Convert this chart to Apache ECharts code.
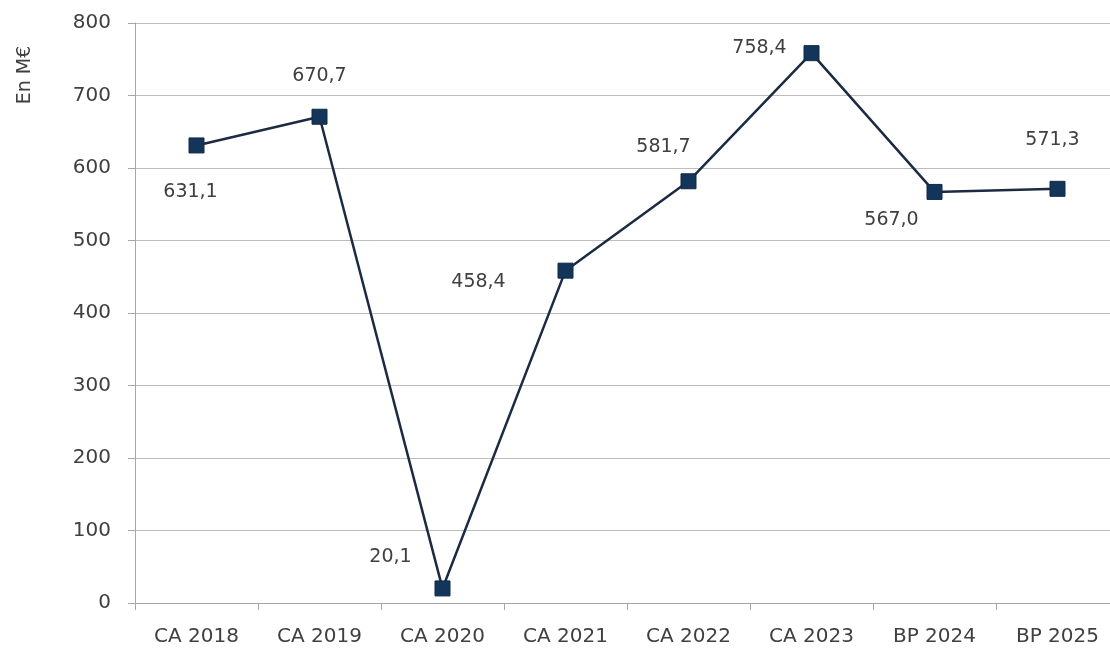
<!DOCTYPE html>
<html>
<head>
<meta charset="utf-8">
<script src="https://cdn.jsdelivr.net/npm/echarts@6/dist/echarts.min.js"></script>
<style>
  html, body { margin: 0; padding: 0; background: #ffffff; }
  #chart { width: 1110px; height: 648px; }
</style>
</head>
<body>
<div id="chart"></div>
<script>
// Exercices budgétaires (comptes administratifs et budgets primitifs)
const categories = ['CA 2018', 'CA 2019', 'CA 2020', 'CA 2021', 'CA 2022', 'CA 2023', 'BP 2024', 'BP 2025'];
// Montants en millions d'euros
const values = [631.1, 670.7, 20.1, 458.4, 581.7, 758.4, 567.0, 571.3];
// Position of each value label relative to its point [dx, dy]
const labelOffsets = [[-6, 47], [0, -41], [-52, -31], [-87, 11], [-25, -34], [-52, -5], [-43, 28], [-5, -49]];
const yTicks = { min: 0, max: 800, interval: 100 };
const unitLabel = 'En M€';

const FONT = 'DejaVu Sans';
const TEXT = '#404040';

const seriesData = values.map((v, i) => ({
  value: v,
  label: { offset: labelOffsets[i] }
}));

const chart = echarts.init(document.getElementById('chart'), null, { renderer: 'canvas' });
chart.setOption({
  animation: false,
  backgroundColor: '#ffffff',
  // plot area runs slightly past the right edge of the canvas
  grid: { left: 135, top: 23, right: -9, bottom: 45, containLabel: false, outerBoundsMode: 'none' },
  xAxis: {
    type: 'category',
    data: categories,
    boundaryGap: true,
    axisLine: { lineStyle: { color: '#a6a6a6', width: 1 } },
    axisTick: { show: true, length: 7, lineStyle: { color: '#a6a6a6' } },
    axisLabel: { color: TEXT, fontFamily: FONT, fontSize: 20, margin: 24 },
    splitLine: { show: false }
  },
  yAxis: {
    type: 'value',
    min: yTicks.min,
    max: yTicks.max,
    interval: yTicks.interval,
    axisLine: { show: true, lineStyle: { color: '#a6a6a6', width: 1 } },
    axisTick: { show: true, length: 7, lineStyle: { color: '#a6a6a6' } },
    axisLabel: { color: TEXT, fontFamily: FONT, fontSize: 20, margin: 24 },
    splitLine: { show: true, lineStyle: { color: '#bdbdbd', width: 1 } }
  },
  graphic: [{
    type: 'text',
    x: 25,
    y: 75,
    rotation: Math.PI / 2,
    style: {
      text: unitLabel,
      fill: TEXT,
      font: '19px "DejaVu Sans"',
      align: 'center',
      verticalAlign: 'middle'
    }
  }],
  series: [{
    type: 'line',
    data: seriesData,
    symbol: 'rect',
    symbolSize: 15,
    lineStyle: { color: '#1c2b42', width: 2.5 },
    itemStyle: { color: '#14355a', borderColor: '#0f2a48', borderWidth: 1 },
    label: {
      show: true,
      position: 'inside',
      color: TEXT,
      fontFamily: FONT,
      fontSize: 19,
      formatter: p => p.value.toFixed(1).replace('.', ',')
    },
    z: 3
  }]
});
</script>
</body>
</html>
